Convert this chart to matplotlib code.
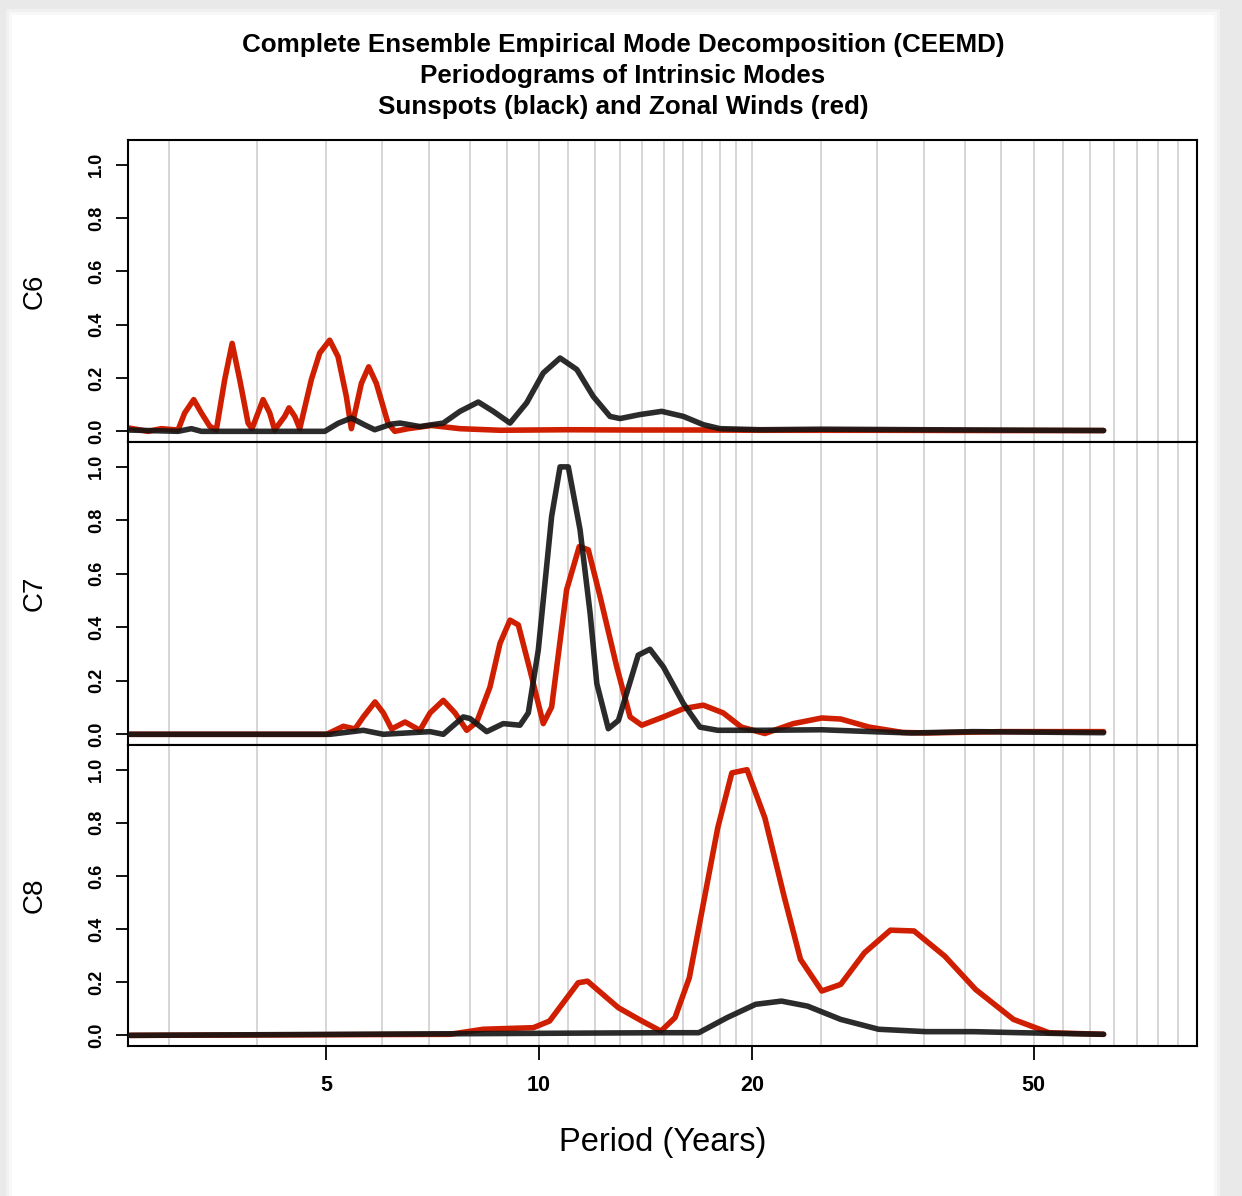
import matplotlib
matplotlib.use("Agg")
from matplotlib import pyplot as plt
from matplotlib.patches import Rectangle
from matplotlib.ticker import FixedLocator, FixedFormatter, NullLocator

plt.rcParams['font.family'] = ['Liberation Sans', 'DejaVu Sans']

# periodograms (period in years, normalised power)
c6_wind_period = [2.625, 2.802, 2.925, 3.089, 3.157, 3.251, 3.333, 3.425, 3.499, 3.596, 3.684, 3.776,
                  3.88, 3.93, 4.008, 4.074, 4.163, 4.231, 4.371, 4.433, 4.517, 4.591, 4.767, 4.899,
                  5.06, 5.2, 5.342, 5.43, 5.61, 5.745, 5.89, 6.117, 6.254, 6.531, 7.05, 7.733,
                  8.808, 10.94, 13.58, 16.88, 20.53, 30.0, 45.0, 62.8]
c6_wind_power = [0.013, 0.0, 0.01, 0.005, 0.069, 0.119, 0.069, 0.019, 0.005, 0.194, 0.33, 0.194,
                 0.031, 0.01, 0.069, 0.119, 0.069, 0.005, 0.056, 0.088, 0.056, 0.01, 0.194, 0.294,
                 0.342, 0.28, 0.131, 0.01, 0.18, 0.242, 0.18, 0.031, 0.0, 0.01, 0.022, 0.01,
                 0.004, 0.006, 0.005, 0.005, 0.004, 0.004, 0.003, 0.003]
c6_sun_period = [2.625, 3.089, 3.226, 3.333, 4.98, 5.2, 5.43, 5.672, 5.859, 6.183, 6.363, 6.787,
                 7.324, 7.733, 8.208, 8.617, 9.1, 9.607, 10.14, 10.71, 11.31, 11.93, 12.6, 13.02,
                 13.89, 14.91, 16.0, 17.07, 18.02, 20.53, 25.1, 35.0, 62.8]
c6_sun_power = [0.005, 0.0, 0.01, 0.0, 0.0, 0.03, 0.05, 0.024, 0.006, 0.027, 0.031, 0.018,
                0.031, 0.075, 0.11, 0.075, 0.031, 0.107, 0.219, 0.275, 0.232, 0.131, 0.056, 0.048,
                0.063, 0.075, 0.056, 0.025, 0.01, 0.006, 0.008, 0.006, 0.003]

c7_wind_period = [2.642, 5.01, 5.29, 5.495, 5.646, 5.865, 6.026, 6.19, 6.467, 6.787, 7.015, 7.324,
                  7.608, 7.904, 8.166, 8.526, 8.808, 9.1, 9.35, 9.712, 10.14, 10.42, 10.94, 11.4,
                  11.74, 12.2, 12.88, 13.45, 13.97, 14.99, 16.0, 17.07, 18.21, 19.32, 20.86, 22.88,
                  25.1, 26.7, 29.28, 32.62, 35.24, 45.0, 62.8]
c7_wind_power = [0.0, 0.0, 0.03, 0.02, 0.065, 0.121, 0.08, 0.02, 0.046, 0.015, 0.08, 0.127,
                 0.08, 0.015, 0.046, 0.177, 0.34, 0.427, 0.409, 0.24, 0.04, 0.102, 0.54, 0.702,
                 0.69, 0.515, 0.252, 0.065, 0.034, 0.065, 0.096, 0.109, 0.08, 0.027, 0.003, 0.04,
                 0.061, 0.057, 0.027, 0.007, 0.005, 0.01, 0.01]
c7_sun_period = [2.642, 5.066, 5.646, 6.026, 7.015, 7.324, 7.816, 7.99, 8.436, 8.902, 9.40, 9.658,
                 9.977, 10.42, 10.71, 11.0, 11.43, 11.81, 12.07, 12.53, 12.95, 13.81, 14.35, 14.99,
                 16.0, 16.88, 17.89, 20.86, 25.1, 30.2, 33.63, 41.1, 62.8]
c7_sun_power = [0.0, 0.0, 0.015, 0.0, 0.01, 0.0, 0.065, 0.059, 0.01, 0.04, 0.034, 0.08,
                0.315, 0.815, 1.0, 1.0, 0.765, 0.453, 0.19, 0.021, 0.052, 0.296, 0.318, 0.252,
                0.115, 0.027, 0.015, 0.015, 0.017, 0.009, 0.005, 0.01, 0.006]

c8_wind_period = [2.642, 7.484, 8.34, 9.82, 10.35, 11.36, 11.71, 12.95, 13.98, 14.87, 15.57, 16.31,
                  17.89, 18.73, 19.68, 20.86, 22.2, 23.42, 25.1, 26.7, 28.84, 31.38, 33.89, 37.46,
                  41.4, 46.84, 52.58, 62.8]
c8_wind_power = [0.0, 0.004, 0.023, 0.029, 0.054, 0.198, 0.204, 0.104, 0.054, 0.016, 0.067, 0.217,
                 0.781, 0.988, 1.0, 0.818, 0.524, 0.286, 0.167, 0.192, 0.311, 0.396, 0.393, 0.298,
                 0.173, 0.06, 0.01, 0.004]
c8_sun_period = [2.642, 14.87, 16.82, 18.45, 20.24, 22.02, 23.97, 26.7, 30.2, 35.23, 41.1, 47.93, 62.8]
c8_sun_power = [0.0, 0.01, 0.01, 0.067, 0.117, 0.129, 0.11, 0.06, 0.023, 0.014, 0.014, 0.01, 0.004]

modes = ["C6", "C7", "C8"]
wind = [(c6_wind_period, c6_wind_power), (c7_wind_period, c7_wind_power), (c8_wind_period, c8_wind_power)]
sun = [(c6_sun_period, c6_sun_power), (c7_sun_period, c7_sun_power), (c8_sun_period, c8_sun_power)]

x_ticks = [5, 10, 20, 50]
y_ticks = [0.0, 0.2, 0.4, 0.6, 0.8, 1.0]
grid_periods = list(range(3, 20)) + list(range(20, 85, 5))

W, H = 1242, 1196
fig = plt.figure(figsize=(W / 100, H / 100), dpi=100, facecolor='#e9e9e9')
# page with a soft edge like the screenshot
for inset, col in [(0, '#f1f1f1'), (3, '#f8f8f8'), (6, 'white')]:
    fig.patches.append(Rectangle(((6 + inset) / W, 0), (1214 - 2 * inset) / W, (1187 - inset) / H,
                                 transform=fig.transFigure, facecolor=col, edgecolor='none', zorder=-10))

left, right = 128 / W, 1196.6 / W
edges = [140, 442, 745, 1046]
red = '#d01e00'

for i, mode in enumerate(modes):
    top, bot = 1 - edges[i] / H, 1 - edges[i + 1] / H
    ax = fig.add_axes([left, bot, right - left, top - bot])
    ax.set_xscale('log')
    ax.set_xlim(2.625, 85.0)
    ax.set_ylim(-0.04, 1.093)
    for g in grid_periods:
        ax.axvline(g, color='#cfcfcf', lw=1.2, zorder=0)
    ax.plot(*wind[i], color=red, lw=4.0, solid_joinstyle='round', solid_capstyle='round', zorder=2)
    ax.plot(*sun[i], color='#141414', lw=4.0, alpha=0.9, solid_joinstyle='round',
            solid_capstyle='round', zorder=3)
    for s in ax.spines.values():
        s.set_linewidth(1.5)
    ax.xaxis.set_minor_locator(NullLocator())
    ax.yaxis.set_major_locator(FixedLocator(y_ticks))
    ax.set_yticklabels([f"{v:.1f}" for v in y_ticks], rotation=90, va='center',
                       fontsize=13, fontweight='bold')
    ax.tick_params(axis='y', length=8.5, width=1.3, pad=8)
    if i < 2:
        ax.xaxis.set_major_locator(NullLocator())
    else:
        ax.xaxis.set_major_locator(FixedLocator(x_ticks))
        ax.xaxis.set_major_formatter(FixedFormatter([str(v) for v in x_ticks]))
        ax.tick_params(axis='x', length=10, width=1.3, pad=11, labelsize=15.5)
        for lab in ax.get_xticklabels():
            lab.set_fontweight('bold')
        ax.set_xlabel("Period (Years)", fontsize=23.5, labelpad=22)
    fig.text(35 / W, (top + bot) / 2, mode, rotation=90, fontsize=20, ha='center', va='center')

titles = ["Complete Ensemble Empirical Mode Decomposition (CEEMD)",
          "Periodograms of Intrinsic Modes",
          "Sunspots (black) and Zonal Winds (red)"]
for k, t in enumerate(titles):
    fig.text(623 / W, 1 - (45 + 31 * k) / H, t, ha='center', va='center', fontsize=18.7, fontweight='bold')

fig.savefig("out.png", dpi=100, facecolor=fig.get_facecolor())
